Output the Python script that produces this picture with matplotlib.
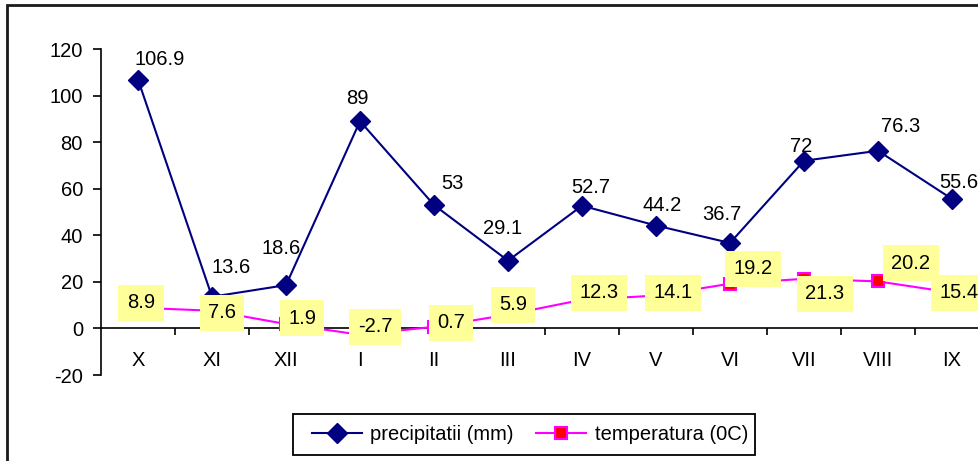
import numpy as np
import matplotlib
matplotlib.use('Agg')
import matplotlib.pyplot as plt
from matplotlib.patches import Rectangle

plt.rcParams['font.family'] = ['Liberation Sans', 'DejaVu Sans']
plt.rcParams['axes.unicode_minus'] = False

months = ['X', 'XI', 'XII', 'I', 'II', 'III', 'IV', 'V', 'VI', 'VII', 'VIII', 'IX']
precip = [106.9, 13.6, 18.6, 89, 53, 29.1, 52.7, 44.2, 36.7, 72, 76.3, 55.6]
temp = [8.9, 7.6, 1.9, -2.7, 0.7, 5.9, 12.3, 14.1, 19.2, 21.3, 20.2, 15.4]

# label offsets in pixels (dx right, dy down) as they sit in the picture
prec_off = [(22, -20), (19, -29), (-5, -37), (-3, -23), (18, -22), (-5, -32),
            (9, -18), (6, -20), (-8, -28), (-3, -14), (23, -24), (7, -16)]
temp_off = [(3, -5), (10, 2), (16, -6), (15, -8), (17, -4), (5, -10),
            (17, -7), (17, -3), (23, -15), (21, 15), (33, -18), (7, 0)]

W, H = 979, 461
fs = 14.5
fig = plt.figure(figsize=(W/100, H/100), dpi=100)
ax = fig.add_axes([101/W, (H-375)/H, 888/W, 326/H])

x = np.arange(len(months))
navy = '#000080'
mag = '#FF00FF'

ax.plot(x, precip, color=navy, lw=1.5, marker='D', ms=10, mfc=navy, mec=navy,
        label='precipitatii (mm)', zorder=3)
ax.plot(x, temp, color=mag, lw=1.5, marker='s', ms=8, mfc='red', mec=mag, mew=1.5,
        label='temperatura (0C)', zorder=3)

px = 72/100  # points per pixel
for i, v in enumerate(precip):
    dx, dy = prec_off[i]
    ax.annotate(f'{v:g}', (x[i], v), xytext=(dx*px, -dy*px), textcoords='offset points',
                ha='center', va='center', fontsize=fs, zorder=5)
for i, v in enumerate(temp):
    dx, dy = temp_off[i]
    ax.annotate(f'{v:g}', (x[i], v), xytext=(dx*px, -dy*px), textcoords='offset points',
                ha='center', va='center', fontsize=fs, zorder=5,
                bbox=dict(boxstyle='square,pad=0.42', fc='#FFFF99', ec='none'))

ax.set_xlim(-0.5, len(months)-0.5)
ax.set_ylim(-20, 120)
ax.set_yticks(np.arange(-20, 121, 20))
ax.set_xticks(x)
ax.set_xticklabels(months)
ax.set_xticks(np.arange(0.5, len(months), 1), minor=True)
ax.tick_params(axis='x', which='major', length=0, pad=16, labelsize=fs)
ax.tick_params(axis='x', which='minor', length=5, width=1.2, direction='out')
ax.tick_params(axis='y', length=6, width=1.2, pad=7, labelsize=fs)

ax.spines['bottom'].set_position(('data', 0))
ax.spines['top'].set_visible(False)
ax.spines['right'].set_visible(False)
ax.spines['left'].set_linewidth(1.2)
ax.spines['bottom'].set_linewidth(1.2)

leg = fig.legend(loc='center', bbox_to_anchor=(530/W, 1-434.5/H), ncol=2,
                 fontsize=fs, frameon=False, handlelength=2.5, handletextpad=0.4,
                 columnspacing=1.1)
fig.patches.append(Rectangle((293/W, 1-455/H), 462/W, 41/H, transform=fig.transFigure,
                             fill=False, lw=1.3, ec='black'))

# outer chart border, cut off on the right and bottom
fig.patches.append(Rectangle((7/W, -0.1), 1.2, 1.1 - 5/H, transform=fig.transFigure,
                             fill=False, lw=2, ec='#1a1a1a'))

fig.savefig('out.png', dpi=100)
